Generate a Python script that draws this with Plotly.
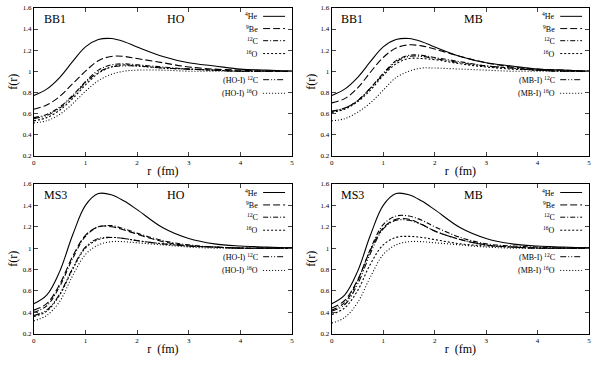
import plotly.graph_objects as go
from plotly.subplots import make_subplots

# radial grid (fm)
r = [0, 0.25, 0.5, 0.75, 1.0, 1.25, 1.5, 1.75, 2.0, 2.5, 3.0, 3.5, 4.0, 4.5, 5.0]

# BB1 potential, HO wave functions
bb1_ho_he = [0.77, 0.83, 0.94, 1.09, 1.23, 1.30, 1.31, 1.28, 1.23, 1.14, 1.08, 1.05, 1.02, 1.01, 1.0]
bb1_ho_be = [0.64, 0.68, 0.76, 0.88, 1.00, 1.10, 1.14, 1.14, 1.12, 1.08, 1.04, 1.02, 1.01, 1.0, 1.0]
bb1_ho_c = [0.56, 0.59, 0.66, 0.77, 0.90, 1.01, 1.06, 1.07, 1.06, 1.04, 1.02, 1.01, 1.0, 1.0, 1.0]
bb1_ho_o = [0.53, 0.56, 0.63, 0.74, 0.87, 0.98, 1.04, 1.06, 1.05, 1.03, 1.02, 1.01, 1.0, 1.0, 1.0]
bb1_ho_c1 = [0.55, 0.58, 0.65, 0.76, 0.89, 0.99, 1.04, 1.05, 1.05, 1.03, 1.02, 1.01, 1.0, 1.0, 1.0]
bb1_ho_o1 = [0.51, 0.53, 0.59, 0.69, 0.81, 0.91, 0.97, 1.00, 1.01, 1.01, 1.0, 1.0, 1.0, 1.0, 1.0]

# BB1 potential, MB wave functions
bb1_mb_he = [0.77, 0.83, 0.94, 1.09, 1.23, 1.30, 1.31, 1.28, 1.23, 1.14, 1.08, 1.05, 1.02, 1.01, 1.0]
bb1_mb_be = [0.70, 0.74, 0.84, 0.99, 1.13, 1.22, 1.25, 1.24, 1.21, 1.14, 1.08, 1.04, 1.02, 1.01, 1.0]
bb1_mb_c = [0.62, 0.65, 0.72, 0.84, 0.98, 1.10, 1.15, 1.15, 1.13, 1.09, 1.05, 1.03, 1.01, 1.0, 1.0]
bb1_mb_o = [0.61, 0.64, 0.71, 0.82, 0.96, 1.07, 1.12, 1.12, 1.11, 1.07, 1.04, 1.02, 1.01, 1.0, 1.0]
bb1_mb_c1 = [0.62, 0.65, 0.72, 0.84, 0.97, 1.09, 1.14, 1.14, 1.12, 1.08, 1.05, 1.03, 1.01, 1.0, 1.0]
bb1_mb_o1 = [0.53, 0.55, 0.61, 0.70, 0.82, 0.94, 1.00, 1.03, 1.03, 1.02, 1.01, 1.0, 1.0, 1.0, 1.0]

# MS3 potential, HO wave functions
ms3_ho_he = [0.48, 0.56, 0.78, 1.12, 1.40, 1.51, 1.50, 1.44, 1.36, 1.19, 1.09, 1.04, 1.02, 1.01, 1.0]
ms3_ho_be = [0.42, 0.48, 0.66, 0.92, 1.12, 1.20, 1.20, 1.17, 1.13, 1.06, 1.02, 1.01, 1.0, 1.0, 1.0]
ms3_ho_c = [0.40, 0.46, 0.64, 0.90, 1.11, 1.20, 1.21, 1.18, 1.14, 1.07, 1.03, 1.01, 1.0, 1.0, 1.0]
ms3_ho_o = [0.36, 0.41, 0.56, 0.80, 1.00, 1.08, 1.10, 1.09, 1.07, 1.04, 1.02, 1.01, 1.0, 1.0, 1.0]
ms3_ho_c1 = [0.37, 0.42, 0.57, 0.81, 1.01, 1.09, 1.10, 1.09, 1.07, 1.04, 1.02, 1.01, 1.0, 1.0, 1.0]
ms3_ho_o1 = [0.32, 0.37, 0.50, 0.74, 0.94, 1.03, 1.06, 1.06, 1.05, 1.03, 1.01, 1.0, 1.0, 1.0, 1.0]

# MS3 potential, MB wave functions
ms3_mb_he = [0.48, 0.56, 0.78, 1.12, 1.40, 1.51, 1.50, 1.44, 1.36, 1.19, 1.09, 1.04, 1.02, 1.01, 1.0]
ms3_mb_be = [0.44, 0.51, 0.70, 0.98, 1.19, 1.27, 1.27, 1.22, 1.16, 1.08, 1.03, 1.01, 1.0, 1.0, 1.0]
ms3_mb_c = [0.42, 0.49, 0.69, 0.99, 1.22, 1.30, 1.30, 1.26, 1.20, 1.10, 1.04, 1.02, 1.01, 1.0, 1.0]
ms3_mb_o = [0.38, 0.44, 0.60, 0.85, 1.03, 1.10, 1.11, 1.10, 1.08, 1.04, 1.02, 1.01, 1.0, 1.0, 1.0]
ms3_mb_c1 = [0.41, 0.47, 0.66, 0.95, 1.18, 1.26, 1.26, 1.22, 1.16, 1.08, 1.03, 1.01, 1.0, 1.0, 1.0]
ms3_mb_o1 = [0.30, 0.35, 0.49, 0.73, 0.94, 1.03, 1.06, 1.06, 1.05, 1.03, 1.01, 1.0, 1.0, 1.0, 1.0]

yticks = [0.2, 0.4, 0.6, 0.8, 1.0, 1.2, 1.4, 1.6]
yticktext = ["0.2", "0.4", "0.6", "0.8", "1", "1.2", "1.4", "1.6"]
xticks = [0, 1, 2, 3, 4, 5]

panels = [
    # row, col, potential, wf, curves
    (1, 1, "BB1", "HO", [bb1_ho_he, bb1_ho_be, bb1_ho_c, bb1_ho_o, bb1_ho_c1, bb1_ho_o1]),
    (1, 2, "BB1", "MB", [bb1_mb_he, bb1_mb_be, bb1_mb_c, bb1_mb_o, bb1_mb_c1, bb1_mb_o1]),
    (2, 1, "MS3", "HO", [ms3_ho_he, ms3_ho_be, ms3_ho_c, ms3_ho_o, ms3_ho_c1, ms3_ho_o1]),
    (2, 2, "MS3", "MB", [ms3_mb_he, ms3_mb_be, ms3_mb_c, ms3_mb_o, ms3_mb_c1, ms3_mb_o1]),
]

dashes = ["solid", "7px,3px", "5px,2px,1px,2px", "2px,2px", "6px,2px,1px,2px,1px,2px", "1px,2px"]

serif = "Liberation Serif"

fig = make_subplots(rows=2, cols=2)

xdom = {1: [32 / 595, 292 / 595], 2: [332 / 595, 591 / 595]}
ydom = {1: [1 - 155 / 366, 1 - 4 / 366], 2: [1 - 337 / 366, 1 - 184 / 366]}

for i, (row, col, pot, wf, curves) in enumerate(panels):
    for ys, d in zip(curves, dashes):
        fig.add_trace(go.Scatter(x=r, y=ys, mode="lines", line_shape="spline",
                                 line=dict(color="black", width=1.1, dash=d),
                                 showlegend=False), row=row, col=col)

    ax = "" if i == 0 else str(i + 1)
    fig.update_xaxes(range=[0, 5], tickvals=xticks, ticks="inside", ticklen=4,
                     mirror="ticks", showline=True, linecolor="black", linewidth=1,
                     showgrid=False, zeroline=False, domain=xdom[col],
                     ticklabeloverflow="allow",
                     tickfont=dict(family=serif, size=7, color="black"),
                     title=dict(text="r  (fm)", font=dict(family=serif, size=12, color="black"),
                                standoff=0),
                     row=row, col=col)
    fig.update_yaxes(range=[0.2, 1.6], tickvals=yticks, ticktext=yticktext, ticks="inside",
                     ticklen=4, mirror="ticks", showline=True, linecolor="black", linewidth=1,
                     showgrid=False, zeroline=False, domain=ydom[row],
                     tickfont=dict(family=serif, size=7, color="black"),
                     title=dict(text="f(r)", font=dict(family=serif, size=12, color="black"),
                                standoff=2),
                     row=row, col=col)

    xr = "x" + ax + " domain"
    yr = "y" + ax + " domain"
    fig.add_annotation(text=pot, x=0.03, y=0.985, xref=xr, yref=yr, xanchor="left",
                       yanchor="top", showarrow=False,
                       font=dict(family=serif, size=12, color="black"))
    fig.add_annotation(text=wf, x=0.55, y=0.985, xref=xr, yref=yr, xanchor="center",
                       yanchor="top", showarrow=False,
                       font=dict(family=serif, size=12, color="black"))

    labels = ["<sup>4</sup>He", "<sup>9</sup>Be", "<sup>12</sup>C", "<sup>16</sup>O",
              "(" + wf + "-I) <sup>12</sup>C", "(" + wf + "-I) <sup>16</sup>O"]
    rows_y = [0.943, 0.86, 0.778, 0.691, 0.514, 0.422]
    for lab, ly, d in zip(labels, rows_y, dashes):
        fig.add_annotation(text=lab, x=0.877, y=ly, xref=xr, yref=yr, xanchor="right",
                           yanchor="middle", showarrow=False,
                           font=dict(family=serif, size=8, color="black"))
        fig.add_shape(type="line", x0=0.888, x1=0.973, y0=ly, y1=ly, xref=xr, yref=yr,
                      line=dict(color="black", width=1, dash=d))

fig.update_layout(width=595, height=366, margin=dict(l=0, r=0, t=0, b=0),
                  plot_bgcolor="white", paper_bgcolor="white", showlegend=False)

# the page body has a default 8px margin; drop it so the figure fills the window
fig.write_html("out.html", config={"displayModeBar": False},
               post_script="document.body.style.margin='0';")
